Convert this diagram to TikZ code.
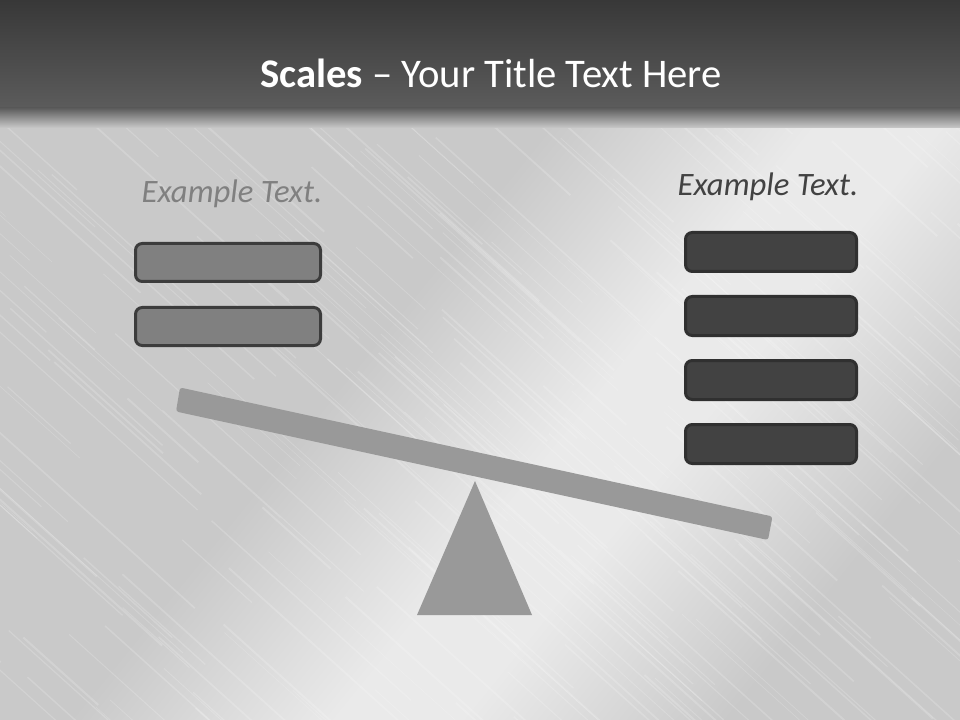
\documentclass[tikz,border=0pt]{standalone}
\usepackage{fontspec}
\setmainfont{Carlito}
\definecolor{barTop}{HTML}{383838}
\definecolor{barBottom}{HTML}{5C5C5C}
\definecolor{metalDark}{HTML}{C9C9C9}
\definecolor{metalLight}{HTML}{EAEAEA}
\definecolor{lightBox}{HTML}{808080}
\definecolor{darkBox}{HTML}{424242}
\definecolor{boxEdge}{HTML}{3C3C3C}
\definecolor{beamGray}{HTML}{999999}
\pgfdeclarehorizontalshading{brushed}{100bp}{color(0bp)=(metalDark); color(42bp)=(metalDark); color(55bp)=(metalLight); color(61bp)=(metalLight); color(74bp)=(metalDark); color(100bp)=(metalDark)}

\begin{document}
\begin{tikzpicture}[x=0.75pt,y=-0.75pt,
  lbox/.style={draw=boxEdge,fill=lightBox,line width=2.25pt,rounded corners=5pt},
  rbox/.style={draw=boxEdge!80!black,fill=darkBox,line width=2.25pt,rounded corners=5pt},
  caption/.style={font=\fontsize{24.5}{29}\selectfont\itshape,anchor=base}]
  \useasboundingbox (0,0) rectangle (960,720);
  \shade[shading=brushed,shading angle=-39] (0,110) rectangle (960,720);
  \begin{scope}
    \clip (0,110) rectangle (960,720);
    \pgfmathsetseed{42}
    \foreach \i in {1,...,320}{
      \pgfmathsetmacro{\sx}{rnd*1500-500}
      \pgfmathsetmacro{\sy}{rnd*700+40}
      \pgfmathsetmacro{\sl}{60+rnd*220}
      \pgfmathsetmacro{\sw}{0.3+rnd*1.2}
      \draw[white,opacity=0.18,line width=\sw pt] (\sx,\sy) -- ++(\sl,0.9*\sl);
    }
  \end{scope}
  \shade[top color=barTop,bottom color=barBottom] (0,0) rectangle (960,109);
  \shade[top color=barBottom,bottom color=metalDark] (0,108) rectangle (960,128);
  \node[text=white,font=\fontsize{30.5}{36}\selectfont,anchor=base] (title) at (491,88) {\textbf{Scales} -- Your Title Text Here};
  \node[caption,text=lightBox] (leftcap) at (232,203) {Example Text.};
  \node[caption,text=darkBox] (rightcap) at (768,196) {Example Text.};
  \foreach \y in {243.5,307.5}
    \draw[lbox] (135.5,\y) rectangle ++(185,38);
  \foreach \y in {232.5,296.5,360.5,424.5}
    \draw[rbox] (685.5,\y) rectangle ++(171,39);
  \fill[beamGray] (475,481) -- (532,615) -- (417,615) -- cycle;
  \fill[beamGray,rounded corners=2pt] (180,387.5) -- (772.5,516.5) -- (768,540) -- (176,411.5) -- cycle;
\end{tikzpicture}
\end{document}
